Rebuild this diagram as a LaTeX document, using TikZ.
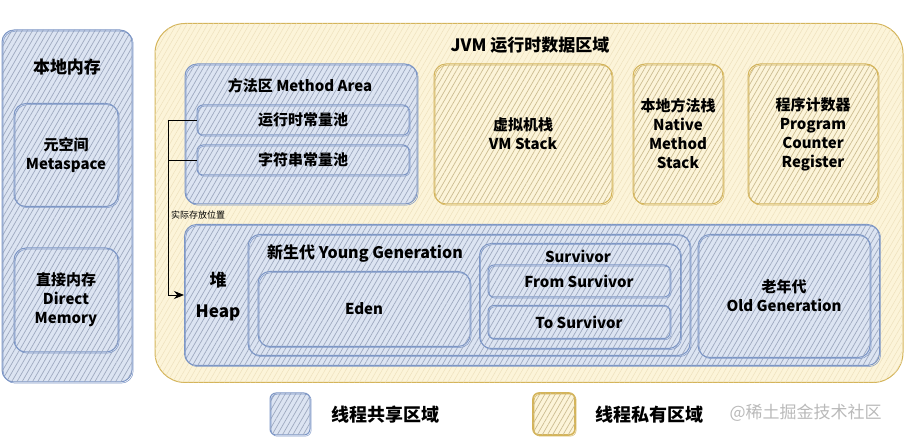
\documentclass[tikz,border=0pt]{standalone}
\usepackage{fontspec}
\setmainfont{Noto Sans CJK SC}
\usetikzlibrary{arrows.meta,patterns.meta}

\definecolor{shareline}{HTML}{7C96C6}
\definecolor{sharefill}{HTML}{DCE4F2}
\definecolor{privline}{HTML}{D4B45A}
\definecolor{privfill}{HTML}{FCF4D9}

\tikzset{
  area/.style={line width=1pt, rounded corners=12pt, inner sep=0pt, align=center,
    font=\bfseries\fontsize{15}{19}\selectfont},
  shared/.style={area, draw=shareline, fill=sharefill,
    postaction={pattern={Lines[angle=60,distance=4.5pt,line width=.7pt]}, pattern color=shareline!75!black!60},
    postaction={draw=shareline, line width=.5pt, transform canvas={shift={(1.2pt,-1.2pt)}}}},
  private/.style={area, draw=privline, fill=privfill,
    postaction={pattern={Lines[angle=60,distance=4.5pt,line width=.7pt]}, pattern color=privline!80!black!60},
    postaction={draw=privline, line width=.5pt, transform canvas={shift={(1.2pt,-1.2pt)}}}},
  title/.style={font=\bfseries\fontsize{#1}{#1}\selectfont, inner sep=1pt},
  title/.default=15
}

% style, name, centre, width, height, text
\newcommand{\region}[6]{\node[#1, minimum width=#4pt, minimum height=#5pt] (#2) at #3 {#6};}

\begin{document}
\begin{tikzpicture}[x=1pt, y=-1pt]
\useasboundingbox (0,0) rectangle (906,438);

% native memory
\region{shared}{local}{(67,206)}{130}{352}{}
\node[title=17] (localname) at (67,67) {本地内存};
\region{shared}{meta}{(66,155)}{104}{103}{元空间\\Metaspace}
\region{shared}{direct}{(66,300)}{104}{104}{直接内存\\Direct\\Memory}

% runtime data areas
\node[area, draw=privline, fill=privfill, rounded corners=30pt, minimum width=748pt, minimum height=359pt,
  postaction={pattern={Lines[angle=60,distance=4.5pt,line width=.5pt]}, pattern color=privline!40}] (jvm) at (529,203) {};
\node[title=17] (jvmname) at (530,45) {JVM 运行时数据区域};

\region{shared}{method}{(301,134)}{232}{140}{}
\node[title] (methodname) at (300,86) {方法区 Method Area};
\region{shared, rounded corners=6pt}{rtpool}{(303,120)}{212}{30}{运行时常量池}
\region{shared, rounded corners=6pt}{strpool}{(303,160)}{212}{30}{字符串常量池}

\region{private}{vmstack}{(523,134)}{178}{140}{虚拟机栈\\VM Stack}
\region{private}{native}{(678,134)}{90}{140}{本地方法栈\\Native\\Method\\Stack}
\region{private}{pc}{(813,134)}{130}{140}{程序计数器\\Program\\Counter\\Register}

% heap
\region{shared}{heap}{(532,295)}{695}{141}{}
\node[title=17] (heapcn) at (218,280) {堆};
\node[title=17] (heapen) at (218,313) {Heap};
\region{shared}{young}{(469,295)}{442}{121}{}
\node[title=16] (youngname) at (365,254) {新生代 Young Generation};
\region{shared}{eden}{(364,309)}{212}{75}{Eden}
\region{shared}{surv}{(580,296)}{201}{105}{}
\node[title] (survname) at (578,256) {Survivor};
\region{shared, rounded corners=6pt}{from}{(579,281)}{182}{32}{From Survivor}
\region{shared, rounded corners=6pt}{to}{(579,322)}{182}{33}{To Survivor}
\region{shared}{old}{(784,296)}{172}{123}{老年代\\Old Generation}

% where the pools really live
\coordinate (bus) at (168,120);
\draw[line width=.9pt, -{Stealth[length=10pt,width=8pt]}] (rtpool.west) -- (bus) |- (heap.west);
\draw[line width=.9pt] (strpool.west) -- (strpool.west -| bus);
\node[anchor=west, font=\fontsize{9}{9}\selectfont, inner sep=1pt] (note) at (170,215) {实际存放位置};

% legend
\region{shared, rounded corners=6pt}{keyshared}{(290,414)}{40}{42}{}
\node[title=18, anchor=west] (sharedtext) at (330,415) {线程共享区域};
\region{private, rounded corners=6pt, line width=1.6pt}{keyprivate}{(554,414)}{42}{42}{}
\node[title=18, anchor=west] (privatetext) at (594,415) {线程私有区域};
\node[font=\fontsize{17}{17}\selectfont, text=gray!55, anchor=west] (mark) at (726,413) {@稀土掘金技术社区};
\end{tikzpicture}
\end{document}
